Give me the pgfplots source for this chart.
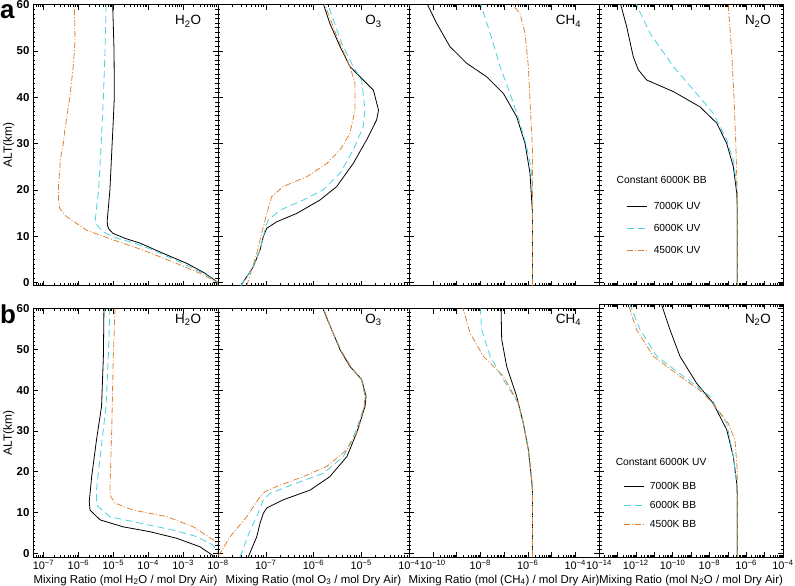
\documentclass[border=0pt]{standalone}
\usepackage{fontspec}
\setmainfont{Liberation Sans}
\usepackage{pgfplots}
\pgfplotsset{compat=1.18}

\definecolor{cy}{RGB}{72,209,227}
\definecolor{orn}{RGB}{224,130,52}
\newcommand{\tp}[1]{10\textsuperscript{−#1}}

\tikzset{
  sK/.style={black, line width=0.8pt},
  sC/.style={cy, line width=0.8pt, dash pattern=on 7bp off 4bp},
  sO/.style={orn, line width=0.8pt, dash pattern=on 6bp off 2bp on 1bp off 2bp},
  spec/.style={font=\fontsize{13.5}{15}\selectfont},
  legt/.style={anchor=west, inner sep=0pt, font=\fontsize{10.3}{12}\selectfont},
}
\pgfplotsset{/pgf/number format/assume math mode=true}
\pgfplotsset{
  every axis/.append style={
    scale only axis,
    ymax=60, ytick={0,10,20,30,40,50,60}, minor y tick num=9,
    tick align=inside,
    major tick length=5bp, minor tick length=2.5bp,
    axis line style={line width=0.9pt},
    xticklabel style={font=\fontsize{11}{12}\selectfont},
    yticklabel style={font=\fontsize{11.5}{12}\bfseries\selectfont},
    xlabel style={font=\fontsize{11.5}{13}\selectfont, at={(axis description cs:0.5,0)}, anchor=base, yshift=-26bp},
    ylabel style={font=\fontsize{12}{13}\selectfont, at={(axis description cs:-0.1135,0.5)}, anchor=base},
    legend cell align=left,
    legend image code/.code={\draw[##1] (0bp,0bp) -- (20bp,0bp); \path (24bp,0bp);},
  },
  every tick/.style={black, line width=0.5pt},
}

\begin{document}
\begin{tikzpicture}
\useasboundingbox (0,0) rectangle (795bp,-586bp);

% ================= TOP ROW =================
\begin{axis}[xmode=log, height=281.2bp, ymin=-0.7, width=185bp, xmin=5e-8, xmax=1e-2, xtick={1e-7,1e-6,1e-5,1e-4,1e-3,1e-2},
    minor xtick={6e-8,7e-8,8e-8,9e-8,2e-7,3e-7,4e-7,5e-7,6e-7,7e-7,8e-7,9e-7,2e-6,3e-6,4e-6,5e-6,6e-6,7e-6,8e-6,9e-6,2e-5,3e-5,4e-5,5e-5,6e-5,7e-5,8e-5,9e-5,2e-4,3e-4,4e-4,5e-4,6e-4,7e-4,8e-4,9e-4,2e-3,3e-3,4e-3,5e-3,6e-3,7e-3,8e-3,9e-3},
  at={(33bp,-285.7bp)}, anchor=south west,
  xticklabels={}, yticklabels={0,10,20,30,40,50,60}, ylabel={ALT(km)}]
\addplot[sK] coordinates {(1e-2,-0.7) (1e-2,0) (4.2e-3,2.0) (1.3e-3,4.1) (2.65e-4,6.3) (5.8e-5,8.5) (2.2e-5,9.5) (9.8e-6,10.6) (7.5e-6,11.5) (6.8e-6,12.3) (6.7e-6,13.4) (7.2e-6,16) (8.0e-6,20) (9.0e-6,28) (1.0e-5,35) (1.07e-5,40) (1.05e-5,50) (9.6e-6,60)};
\addplot[sC] coordinates {(1e-2,-0.7) (1e-2,0) (3.7e-3,2.0) (9.9e-4,4.1) (1.37e-4,7.0) (4.0e-5,8.5) (1.36e-5,9.5) (6.5e-6,10.5) (4.6e-6,11.3) (3.3e-6,12.5) (3.05e-6,13.5) (3.3e-6,16) (3.8e-6,20) (4.5e-6,30) (5.2e-6,40) (5.8e-6,50) (6.2e-6,60)};
\addplot[sO] coordinates {(1e-2,-0.7) (1e-2,0) (3.0e-3,2.0) (6.5e-4,4.1) (7.1e-5,7.0) (9.8e-6,9.2) (1.7e-6,11.3) (4.6e-7,14.2) (2.9e-7,16) (2.7e-7,18) (2.7e-7,21) (3.1e-7,27) (3.7e-7,30) (4.1e-7,33) (5.7e-7,40) (7.1e-7,46.6) (8.0e-7,52) (7.8e-7,57) (7.6e-7,60)};
\node[spec] at (rel axis cs:0.838,0.94) {H\textsubscript{2}O};
\end{axis}

\begin{axis}[xmode=log, height=281.2bp, ymin=-0.7, width=191bp, xmin=1e-8, xmax=1e-4, xtick={1e-8,1e-7,1e-6,1e-5,1e-4},
    minor xtick={2e-8,3e-8,4e-8,5e-8,6e-8,7e-8,8e-8,9e-8,2e-7,3e-7,4e-7,5e-7,6e-7,7e-7,8e-7,9e-7,2e-6,3e-6,4e-6,5e-6,6e-6,7e-6,8e-6,9e-6,2e-5,3e-5,4e-5,5e-5,6e-5,7e-5,8e-5,9e-5},
  at={(218bp,-285.7bp)}, anchor=south west, xticklabels={}, yticklabels={}]
\addplot[sK] coordinates {(3.0e-8,-0.7) (5.5e-8,3.4) (7.6e-8,7.0) (8.9e-8,9.9) (1.05e-7,11.7) (1.7e-7,13.1) (4.45e-7,14.9) (1.37e-6,17.8) (3.06e-6,20.7) (6.8e-6,25.7) (1.3e-5,30.8) (2.1e-5,35.1) (2.3e-5,37.2) (1.8e-5,41.5) (9.4e-6,44.4) (5.8e-6,46.6) (3.6e-6,50.9) (2.2e-6,55.9) (1.6e-6,60.2)};
\addplot[sC] coordinates {(3.0e-8,-0.7) (5.5e-8,3.4) (7.6e-8,7.0) (8.9e-8,9.9) (1.0e-7,12) (1.13e-7,13.5) (2.0e-7,15.6) (6.1e-7,17.8) (1.6e-6,20.0) (3.6e-6,23.6) (6.8e-6,28.6) (1.1e-5,33.6) (1.2e-5,37.2) (1.02e-5,43.7) (6.8e-6,46.6) (3.9e-6,51.6) (2.2e-6,58.8) (2.0e-6,60.5)};
\addplot[sO] coordinates {(4.0e-8,-0.7) (6.5e-8,6.3) (8.2e-8,10.6) (1.05e-7,14.9) (1.33e-7,18.5) (2.3e-7,20.7) (7.2e-7,22.8) (1.9e-6,25.7) (3.6e-6,28.6) (5.8e-6,32.2) (7.4e-6,37.2) (7.4e-6,43.0) (5.8e-6,46.6) (3.1e-6,53.0) (1.7e-6,60.2)};
\node[spec] at (rel axis cs:0.814,0.94) {O\textsubscript{3}};
\end{axis}

\begin{axis}[xmode=log, height=281.2bp, ymin=-0.7, width=190bp, xmin=1e-11, xmax=1e-3, xtick={1e-10,1e-9,1e-8,1e-7,1e-6,1e-5,1e-4},
  at={(409bp,-285.7bp)}, anchor=south west, xticklabels={}, yticklabels={}]
\addplot[sK] coordinates {(1.6e-6,-0.7) (1.6e-6,15) (1.46e-6,17.8) (1.24e-6,23.6) (7.7e-7,30.0) (3.4e-7,35.8) (9.4e-8,40.8) (1.86e-8,44.4) (2.7e-9,47.3) (5.3e-10,50.9) (1.47e-10,55.9) (5.6e-11,60.3)};
\addplot[sC] coordinates {(1.6e-6,-0.7) (1.6e-6,20) (1.35e-6,25) (9.0e-7,29.3) (4.7e-7,34.4) (1.8e-7,40.8) (6.8e-8,46.6) (2.6e-8,53.8) (9.7e-9,60.6)};
\addplot[sO] coordinates {(1.6e-6,-0.7) (1.6e-6,28) (1.46e-6,32.2) (1.24e-6,39.4) (1.06e-6,46.6) (7.7e-7,53.8) (4.7e-7,58.1) (1.8e-7,60.6)};
\node[spec] at (rel axis cs:0.839,0.94) {CH\textsubscript{4}};
\end{axis}

\begin{axis}[xmode=log, height=281.2bp, ymin=-0.7, width=184bp, xmin=1e-14, xmax=1e-4, xtick={1e-14,1e-13,1e-12,1e-11,1e-10,1e-9,1e-8,1e-7,1e-6,1e-5,1e-4},
  at={(599bp,-285.7bp)}, anchor=south west, xticklabels={}, yticklabels={},
  legend entries={7000K UV, 6000K UV, 4500K UV},
  legend style={draw=none, fill=none, at={(0.151,0.305)}, anchor=north west, inner sep=0pt, row sep=9.5bp, font=\fontsize{10.3}{12}\selectfont}]
\addplot[sK] coordinates {(3.3e-7,-0.7) (3.3e-7,16) (3.05e-7,19.3) (2.0e-7,25.0) (8.7e-8,30.0) (2.5e-8,34.4) (3.1e-9,37.9) (1.1e-10,41.2) (3.9e-12,43.7) (1.37e-12,45.9) (7.3e-13,48.7) (3.2e-13,55.2) (1.38e-13,60.6)};
\addplot[sC] coordinates {(3.3e-7,-0.7) (3.3e-7,20) (2.0e-7,26.4) (8.7e-8,30.8) (1.64e-8,36.5) (2.0e-9,40.8) (1.1e-10,46.6) (5.9e-12,53.8) (9.1e-13,60.6)};
\addplot[sO] coordinates {(3.3e-7,-0.7) (3.3e-7,18) (2.8e-7,28.6) (2.2e-7,39.4) (1.6e-7,50.2) (1.05e-7,60)};
\node[spec] at (rel axis cs:0.864,0.94) {N\textsubscript{2}O};
\node[legt] at (rel axis cs:0.095,0.376) {Constant 6000K BB};
\end{axis}

% ================= BOTTOM ROW =================
\begin{axis}[xmode=log, height=248.5bp, ymin=-0.9, width=185bp, xmin=5e-8, xmax=1e-2, xtick={1e-7,1e-6,1e-5,1e-4,1e-3,1e-2},
    minor xtick={6e-8,7e-8,8e-8,9e-8,2e-7,3e-7,4e-7,5e-7,6e-7,7e-7,8e-7,9e-7,2e-6,3e-6,4e-6,5e-6,6e-6,7e-6,8e-6,9e-6,2e-5,3e-5,4e-5,5e-5,6e-5,7e-5,8e-5,9e-5,2e-4,3e-4,4e-4,5e-4,6e-4,7e-4,8e-4,9e-4,2e-3,3e-3,4e-3,5e-3,6e-3,7e-3,8e-3,9e-3},
  at={(33bp,-557bp)}, anchor=south west,
  xticklabels={\tp{7},\tp{6},\tp{5},\tp{4},\tp{3},}, yticklabels={0,10,20,30,40,50,60}, ylabel={ALT(km)},
  xlabel={Mixing Ratio (mol H\textsubscript{2}O / mol Dry Air)}]
\addplot[sK] coordinates {(8.2e-3,-0.9) (3.05e-3,1.6) (6.5e-4,3.7) (1.12e-4,5.3) (1.9e-5,6.5) (4.2e-6,8.2) (2.15e-6,10.6) (2.05e-6,12.7) (2.4e-6,18.8) (3.3e-6,27.8) (4.6e-6,36.0) (5.2e-6,48.3) (5.4e-6,60.2)};
\addplot[sC] coordinates {(1.2e-2,-0.9) (7.3e-3,2.0) (2.45e-3,4.1) (5.2e-4,5.7) (5.8e-5,7.4) (8.0e-6,9.0) (3.6e-6,11.5) (3.3e-6,12.3) (3.3e-6,15.5) (4.2e-6,23.7) (6.2e-6,36.0) (7.2e-6,48.3) (8.0e-6,60.2)};
\addplot[sO] coordinates {(2.0e-2,-0.9) (1.2e-2,1.5) (7.3e-3,3.3) (1.96e-3,6.5) (3.4e-4,9.0) (3.7e-5,10.6) (1.12e-5,12.3) (8.5e-6,13.9) (8.0e-6,15.5) (9.0e-6,30) (1.0e-5,48.3) (1.12e-5,60)};
\node[spec] at (rel axis cs:0.838,0.954) {H\textsubscript{2}O};
\end{axis}

\begin{axis}[xmode=log, height=248.5bp, ymin=-0.9, width=191bp, xmin=1e-8, xmax=1e-4, xtick={1e-8,1e-7,1e-6,1e-5,1e-4},
    minor xtick={2e-8,3e-8,4e-8,5e-8,6e-8,7e-8,8e-8,9e-8,2e-7,3e-7,4e-7,5e-7,6e-7,7e-7,8e-7,9e-7,2e-6,3e-6,4e-6,5e-6,6e-6,7e-6,8e-6,9e-6,2e-5,3e-5,4e-5,5e-5,6e-5,7e-5,8e-5,9e-5},
  at={(218bp,-557bp)}, anchor=south west, yticklabels={},
  xticklabels={\tp{8},\tp{7},\tp{6},\tp{5},\tp{4}},
  xlabel={Mixing Ratio (mol O\textsubscript{3} / mol Dry Air)}]
\addplot[sK] coordinates {(4.3e-8,-0.9) (6.5e-8,4.1) (7.6e-8,7.4) (8.9e-8,9.8) (1.05e-7,11.1) (2.3e-7,13.1) (8.5e-7,15.5) (2.2e-6,18.8) (5.0e-6,23.7) (8.0e-6,29.5) (1.2e-5,36.0) (1.26e-5,38.5) (1.02e-5,42.6) (5.8e-6,45.8) (3.6e-6,49.9) (2.4e-6,54.8) (1.5e-6,60.6)};
\addplot[sC] coordinates {(2.9e-8,-0.9) (4.7e-8,5.7) (6.5e-8,9.0) (8.9e-8,13.1) (1.23e-7,14.7) (4.4e-7,17.2) (1.6e-6,19.6) (4.2e-6,23.7) (7.4e-6,29.5) (1.16e-5,36.0) (1.22e-5,38.5) (1.0e-5,42.6) (6.0e-6,45.8) (3.7e-6,49.9) (2.4e-6,54.8) (1.55e-6,60.6)};
\addplot[sO] coordinates {(1.0e-8,-0.5) (1.1e-8,0) (1.8e-8,4.1) (4.0e-8,9.0) (7.6e-8,13.9) (9.6e-8,15.1) (1.7e-7,16.4) (6.1e-7,18.8) (1.9e-6,21.3) (5.0e-6,25.4) (8.7e-6,30.3) (1.14e-5,36.0) (1.2e-5,38.5) (1.02e-5,42.6) (6.0e-6,45.8) (3.7e-6,49.9) (2.4e-6,54.8) (1.55e-6,60.6)};
\node[spec] at (rel axis cs:0.814,0.954) {O\textsubscript{3}};
\end{axis}

\begin{axis}[xmode=log, height=248.5bp, ymin=-0.9, width=190bp, xmin=1e-11, xmax=1e-3, xtick={1e-10,1e-9,1e-8,1e-7,1e-6,1e-5,1e-4},
  at={(409bp,-557bp)}, anchor=south west, yticklabels={},
  xticklabels={\tp{10},,\tp{8},,\tp{6},,\tp{4}},
  xlabel={Mixing Ratio (mol (CH\textsubscript{4}) / mol Dry Air)}]
\addplot[sK] coordinates {(1.6e-6,-0.9) (1.6e-6,15) (1.46e-6,18.0) (1.06e-6,25.4) (6.5e-7,31.9) (3.4e-7,38.5) (1.3e-7,45.8) (8.0e-8,52.4) (7.5e-8,60.6)};
\addplot[sC] coordinates {(1.6e-6,-0.9) (1.6e-6,15) (1.46e-6,18.0) (1.06e-6,25.4) (6.5e-7,31.9) (4.0e-7,36.8) (9.4e-8,42.6) (2.6e-8,48.3) (1.15e-8,54.8) (9.8e-9,60.6)};
\addplot[sO] coordinates {(1.6e-6,-0.9) (1.6e-6,15) (1.46e-6,18.0) (1.06e-6,25.4) (6.5e-7,31.9) (4.0e-7,36.8) (9.4e-8,43.4) (1.35e-8,48.3) (3.7e-9,54.0) (1.9e-9,60)};
\node[spec] at (rel axis cs:0.839,0.954) {CH\textsubscript{4}};
\end{axis}

\begin{axis}[xmode=log, height=252.6bp, ymin=-0.9, ymax=61, width=184bp, xmin=1e-14, xmax=1e-4, xtick={1e-14,1e-13,1e-12,1e-11,1e-10,1e-9,1e-8,1e-7,1e-6,1e-5,1e-4},
  at={(599bp,-557bp)}, anchor=south west, yticklabels={},
  xticklabels={\tp{14},,\tp{12},,\tp{10},,\tp{8},,\tp{6},,\tp{4}},
  xlabel={Mixing Ratio (mol N\textsubscript{2}O / mol Dry Air)},
  legend entries={7000K BB, 6000K BB, 4500K BB},
  legend style={draw=none, fill=none, at={(0.13,0.304)}, anchor=north west, inner sep=0pt, row sep=6.3bp, font=\fontsize{10.3}{12}\selectfont}]
\addplot[sK] coordinates {(3.3e-7,-0.9) (3.3e-7,14) (3.05e-7,17.2) (2.0e-7,23.7) (8.7e-8,30.3) (1.6e-8,36.8) (2.0e-9,41.7) (2.5e-10,48.3) (7.2e-11,54.8) (2.5e-11,61)};
\addplot[sC] coordinates {(3.3e-7,-0.9) (3.3e-7,14) (3.05e-7,17.2) (2.0e-7,23.7) (8.7e-8,31.9) (2.5e-8,35.6) (1.08e-8,38.5) (3.8e-10,43.4) (1.37e-11,48.3) (1.7e-12,54.8) (4.8e-13,61)};
\addplot[sO] coordinates {(3.3e-7,-0.9) (3.3e-7,20) (2.45e-7,27.8) (1.06e-7,31.9) (2.0e-8,36.0) (4.7e-9,39.3) (2.5e-10,43.4) (8.9e-12,48.3) (1.1e-12,54.8) (3.9e-13,61)};
\node[spec] at (rel axis cs:0.864,0.938) {N\textsubscript{2}O};
\node[legt] at (rel axis cs:0.09,0.376) {Constant 6000K UV};
\end{axis}

\node[anchor=base west, inner sep=0pt, font=\fontsize{26}{28}\bfseries\selectfont] at (0bp,-18bp) {a};
\node[anchor=base west, inner sep=0pt, font=\fontsize{26}{28}\bfseries\selectfont] at (0bp,-323bp) {b};
\end{tikzpicture}
\end{document}
